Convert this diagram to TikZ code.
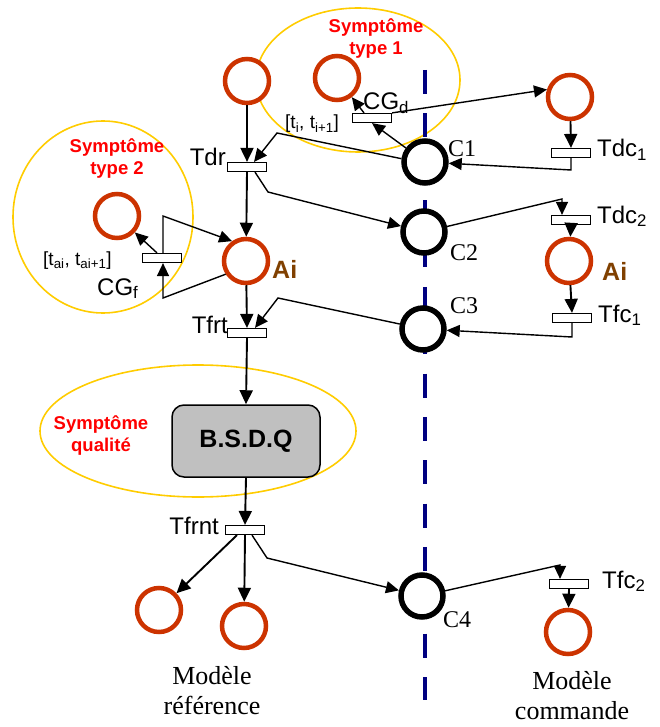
\documentclass[tikz,border=0pt]{standalone}
\usepackage{fontspec}
\setmainfont{Liberation Serif}
\setsansfont{Liberation Sans}
\usetikzlibrary{arrows.meta}

\definecolor{placered}{HTML}{CC3300}
\definecolor{symyellow}{HTML}{FFCC00}
\definecolor{symred}{HTML}{FF0000}
\definecolor{aibrown}{HTML}{804000}
\definecolor{sepblue}{HTML}{000080}
\definecolor{boxgray}{HTML}{C0C0C0}

\tikzset{
  place/.style={circle, draw=placered, fill=white, line width=4.5pt, minimum size=44pt, inner sep=0pt},
  cond/.style={circle, draw=black, fill=white, line width=5.5pt, minimum size=42pt, inner sep=0pt},
  trans/.style={rectangle, draw=black, fill=white, line width=1.2pt, minimum width=39pt, minimum height=9pt, inner sep=0pt},
  arc/.style={-{Triangle[length=14pt,width=13pt]}, line width=1.9pt},
  thinarc/.style={-{Triangle[length=13pt,width=12pt]}, line width=1.4pt},
  symline/.style={draw=symyellow, line width=1.6pt},
  lbl/.style={font=\sffamily\fontsize{24}{28}\selectfont, inner sep=0pt},
  clbl/.style={font=\fontsize{24}{28}\selectfont, inner sep=0pt},
  ailbl/.style={font=\sffamily\bfseries\fontsize{25}{28}\selectfont, text=aibrown, inner sep=0pt},
  sym/.style={font=\sffamily\bfseries\fontsize{18.5}{22}\selectfont, text=symred, align=center, inner sep=0pt},
  model/.style={font=\fontsize{26}{30}\selectfont, align=center, inner sep=0pt}
}

\begin{document}
\begin{tikzpicture}[x=1pt, y=-1pt]
  \useasboundingbox (0,0) rectangle (659,727);

  % symptom zones
  \draw[symline] (358,80) ellipse [x radius=102, y radius=72];
  \draw[symline] (103,217) ellipse [x radius=90, y radius=96];
  \draw[symline] (198,431) ellipse [x radius=158, y radius=66];

  % separation between the two models
  \coordinate (sepTop) at (425,70);
  \coordinate (sepBot) at (425,700);
  \draw[sepblue, line width=4pt, dash pattern=on 24pt off 19.36pt] (sepTop) -- (sepBot);

  % reference model
  \node[place] (pStart) at (247,81) {};
  \node[trans] (tdr) at (247,167) {};
  \node[place] (pAiRef) at (246,261) {};
  \node[trans] (tfrt) at (247,333) {};
  \node[rectangle, rounded corners=12pt, draw=black, fill=boxgray, line width=1.5pt,
        minimum width=148pt, minimum height=72pt,
        font=\sffamily\bfseries\fontsize{25}{28}\selectfont] (bsdq) at (246,441) {B.S.D.Q};
  \node[trans] (tfrnt) at (245,530) {};
  \node[place] (pOutA) at (159,610) {};
  \node[place] (pOutB) at (244,626) {};

  % symptoms
  \node[place] (pSymA) at (337,78) {};
  \node[trans] (tcgd) at (372,118) {};
  \node[place] (pSymB) at (117,216) {};
  \node[trans] (tcgf) at (162,258) {};

  % conditions
  \node[cond] (cA) at (425,162) {};
  \node[cond] (cB) at (424,232) {};
  \node[cond] (cC) at (423,329) {};
  \node[cond] (cD) at (422,596) {};

  % command model
  \node[place] (pCmdA) at (570,97) {};
  \node[trans] (tdcA) at (571,153) {};
  \node[trans] (tdcB) at (571,220) {};
  \node[place] (pAiCmd) at (569,261) {};
  \node[trans] (tfcA) at (572,318) {};
  \node[trans] (tfcB) at (569,584) {};
  \node[place] (pCmdEnd) at (568,632) {};

  % bends
  \coordinate (kA) at (277,133);
  \coordinate (kB) at (268,192);
  \coordinate (kC) at (571,170);
  \coordinate (kD) at (562,199);
  \coordinate (kE) at (572,337);
  \coordinate (kF) at (278,298);
  \coordinate (kG) at (267,558);
  \coordinate (kH) at (560,565);
  \coordinate (kI) at (163,298);
  \coordinate (kJ) at (163,216);

  % arcs
  \draw[arc] (pStart) -- (tdr.north);
  \draw[thinarc] (cA.172) -- (kA) -- ([xshift=7pt]tdr.north);
  \draw[arc] (tdr.south) -- (pAiRef);
  \draw[thinarc] ([xshift=8pt]tdr.south) -- (kB) -- (cB);
  \draw[thinarc] (cA) -- (tcgd.south);
  \draw[thinarc] ([xshift=-8pt]tcgd.north) -- (pSymA);
  \draw[thinarc] (tcgd.north east) -- (pCmdA.162);
  \draw[arc] (pCmdA) -- (tdcA.north);
  \draw[thinarc] (tdcA.south) -- (kC) -- (cA);
  \draw[thinarc] (cB) -- (kD) -- ([xshift=-9pt]tdcB.north);
  \draw[arc] (tdcB.south) -- (pAiCmd);
  \draw[arc] (pAiCmd) -- (tfcA.north);
  \draw[thinarc] (tfcA.south) -- (kE) -- (cC);
  \draw[thinarc] (cC) -- (kF) -- ([xshift=8pt]tfrt.north);
  \draw[arc] (pAiRef) -- (tfrt.north);
  \draw[arc] (tfrt.south) -- (bsdq.north);
  \draw[arc] (bsdq.south) -- (tfrnt.north);
  \draw[arc] ([xshift=-8pt]tfrnt.south) -- (pOutA);
  \draw[arc] (tfrnt.south) -- (pOutB);
  \draw[thinarc] ([xshift=7pt]tfrnt.south) -- (kG) -- (cD);
  \draw[thinarc] (cD) -- (kH) -- ([xshift=-9pt]tfcB.north);
  \draw[arc] (tfcB.south) -- (pCmdEnd);
  \draw[thinarc] ([xshift=-5pt]tcgf.north) -- (pSymB);
  \draw[thinarc] (pAiRef.213) -- (kI) -- ([xshift=1pt]tcgf.south);
  \draw[thinarc] ([xshift=1pt]tcgf.north) -- (kJ) -- (pAiRef.125);

  % labels
  \node[sym] (lSymA) at (376,39) {Symptôme\\type 1};
  \node[sym] (lSymB) at (117,159) {Symptôme\\type 2};
  \node[sym] (lSymQ) at (101,436) {Symptôme\\qualité};
  \node[lbl, anchor=base east] (lTdr) at (226,166) {Tdr};
  \node[lbl, anchor=base east] (lTfrt) at (228,333) {Tfrt};
  \node[lbl, anchor=base east] (lTfrnt) at (219,534) {Tfrnt};
  \node[lbl, anchor=base west] (lTdcA) at (597,157) {Tdc\textsubscript{1}};
  \node[lbl, anchor=base west] (lTdcB) at (597,223) {Tdc\textsubscript{2}};
  \node[lbl, anchor=base west] (lTfcA) at (598,322) {Tfc\textsubscript{1}};
  \node[lbl, anchor=base west] (lTfcB) at (602,588) {Tfc\textsubscript{2}};
  \node[lbl, anchor=base west] (lCGd) at (363,110) {CG\textsubscript{d}};
  \node[lbl, anchor=base west] (lCGf) at (97,295) {CG\textsubscript{f}};
  \node[lbl, anchor=base west, font=\sffamily\fontsize{19}{22}\selectfont] (lIntA) at (285,129) {[t\textsubscript{i}, t\textsubscript{i+1}]};
  \node[lbl, anchor=base west, font=\sffamily\fontsize{19}{22}\selectfont] (lIntB) at (43,265) {[t\textsubscript{ai}, t\textsubscript{ai+1}]};
  \node[clbl, anchor=base west] (lCA) at (448,157) {C1};
  \node[clbl, anchor=base west] (lCB) at (450,260) {C2};
  \node[clbl, anchor=base west] (lCC) at (450,313) {C3};
  \node[clbl, anchor=base west] (lCD) at (443,627) {C4};
  \node[ailbl, anchor=base west] (lAiRef) at (272,278) {Ai};
  \node[ailbl, anchor=base west] (lAiCmd) at (602,280) {Ai};
  \node[model] (lRef) at (212,691) {Modèle\\référence};
  \node[model] (lCmd) at (572,696) {Modèle\\commande};
\end{tikzpicture}
\end{document}
